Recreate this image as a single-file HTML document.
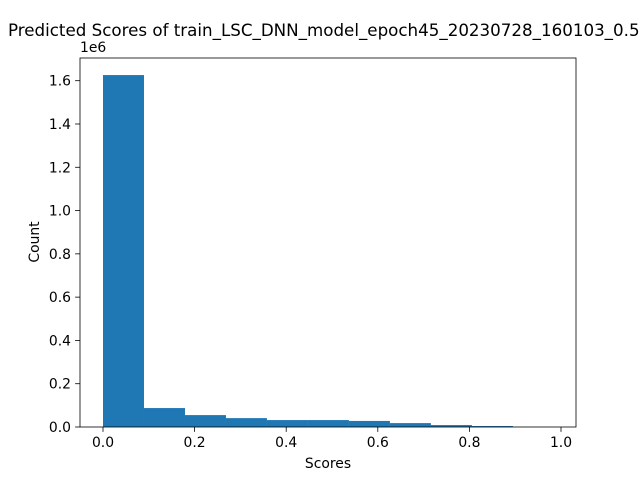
<!DOCTYPE html>
<html><head><meta charset="utf-8"><style>
body{margin:0;background:#fff;overflow:hidden;}
svg{display:block;font-family:"DejaVu Sans","Liberation Sans",sans-serif;}
</style></head><body>
<svg id="chart" width="640" height="480">
<rect width="640" height="480" fill="#fff"/>
<text x="8" y="36" font-size="16.7">Predicted Scores of train_LSC_DNN_model_epoch45_20230728_160103_0.55</text>
<g id="bars"></g>
<g id="axes"></g>
<text x="328" y="468" font-size="13.9" text-anchor="middle">Scores</text>
<text transform="translate(39,242) rotate(-90)" font-size="13.9" text-anchor="middle">Count</text>
<text x="80" y="52" font-size="13.9">1e6</text>
</svg>
<script>
const binStart = 0.0;
const binWidth = 0.0895;
const counts = [1626000, 87500, 55000, 41000, 32000, 32000, 28000, 18000, 9000, 4500, 300];
const xTicks = [0.0, 0.2, 0.4, 0.6, 0.8, 1.0];
const xTickLabels = ["0.0", "0.2", "0.4", "0.6", "0.8", "1.0"];
const yTicks = [0, 0.2e6, 0.4e6, 0.6e6, 0.8e6, 1.0e6, 1.2e6, 1.4e6, 1.6e6];
const yTickLabels = ["0.0", "0.2", "0.4", "0.6", "0.8", "1.0", "1.2", "1.4", "1.6"];

const L=80,R=576,T=58,B=427;
const sx=v=>103+v*458;
const sy=v=>427-v*(346.3/1.6e6);
const NS="http://www.w3.org/2000/svg";
const bars=document.getElementById('bars'), axes=document.getElementById('axes');
function mk(tag,attrs,parent){const e=document.createElementNS(NS,tag);for(const k in attrs)e.setAttribute(k,attrs[k]);parent.appendChild(e);return e;}
counts.forEach((c,i)=>{
  const x0=sx(binStart+i*binWidth), x1=sx(binStart+(i+1)*binWidth);
  const r=mk('rect',{x:x0,y:sy(c),width:x1-x0,height:B-sy(c),fill:'#1f77b4'},bars);
  
  
});
const frame=mk('rect',{x:L,y:T,width:R-L,height:B-T,fill:'none',stroke:'#000','stroke-width':0.8},axes);


xTicks.forEach((v,i)=>{
  const x=sx(v);
  mk('line',{x1:x,x2:x,y1:B,y2:B+4.9,stroke:'#000','stroke-width':0.8},axes);
  const t=mk('text',{x:x,y:B+20,'font-size':13.9,'text-anchor':'middle'},axes);
  t.textContent=xTickLabels[i];
  
  
});
yTicks.forEach((v,i)=>{
  const y=sy(v);
  mk('line',{x1:L-4.9,x2:L,y1:y,y2:y,stroke:'#000','stroke-width':0.8},axes);
  const t=mk('text',{x:L-9,y:y+5,'font-size':13.9,'text-anchor':'end'},axes);
  t.textContent=yTickLabels[i];
  
  
});
</script>
</body></html>
